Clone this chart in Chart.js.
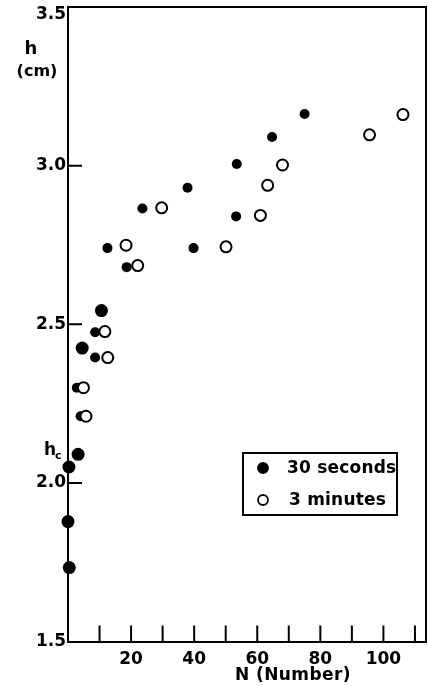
<!DOCTYPE html>
<html>
<head>
<meta charset="utf-8">
<script src="https://cdn.jsdelivr.net/npm/chart.js@4.4.1/dist/chart.umd.min.js"></script>
<style>
  html, body { margin: 0; padding: 0; background: #fff; }
  canvas { display: block; }
</style>
</head>
<body>
<canvas id="plot" width="428" height="686"></canvas>
<script>
// Height h (cm) against number N, two exposure times
const n30s = [8.6, 8.6, 2.8, 4.0, 12.5, 18.6, 23.6, 37.9, 39.8, 53.3, 53.5, 64.7, 75.0];
const h30s = [2.475, 2.395, 2.30, 2.21, 2.74, 2.68, 2.865, 2.93, 2.74, 2.84, 3.005, 3.09, 3.163];
// early 30 s readings, printed with the heavier dot
const n30sEarly = [10.6, 4.5, 3.2, 0.3, 0.0, 0.4];
const h30sEarly = [2.543, 2.425, 2.09, 2.05, 1.878, 1.733];
const n3min = [11.7, 12.6, 4.9, 5.7, 18.4, 22.1, 29.7, 50.1, 61.0, 63.3, 68.0, 95.6, 106.2];
const h3min = [2.477, 2.395, 2.30, 2.21, 2.749, 2.685, 2.867, 2.744, 2.843, 2.938, 3.002, 3.097, 3.161];

const xLabels = [20, 40, 60, 80, 100];
const yTicks = [1.5, 2.0, 2.5, 3.0, 3.5];
const seriesNames = ['30 seconds', '3 minutes'];

const FONT = '"DejaVu Sans", sans-serif';
const pts = (xs, ys) => xs.map((x, i) => ({ x, y: ys[i] }));

// inward tick marks, box edges, y labels, axis captions and the legend box
const frame = {
  id: 'frame',
  afterDraw(chart) {
    const { ctx, chartArea: a, scales: { x, y } } = chart;
    ctx.save();
    ctx.strokeStyle = '#000';
    ctx.lineWidth = 2;
    ctx.beginPath();
    ctx.moveTo(a.left, a.top); ctx.lineTo(a.right, a.top); ctx.lineTo(a.right, a.bottom);
    x.ticks.forEach(t => {
      if (t.value <= 0) return;
      const px = x.getPixelForValue(t.value);
      ctx.moveTo(px, a.bottom); ctx.lineTo(px, a.bottom - 16);
    });
    y.ticks.forEach(t => {
      if (t.value <= 1.5 || t.value >= 3.5) return;
      const py = y.getPixelForValue(t.value);
      ctx.moveTo(a.left, py); ctx.lineTo(a.left + 14, py);
    });
    ctx.stroke();

    ctx.fillStyle = '#000';
    ctx.textBaseline = 'middle';
    ctx.font = 'bold 17px ' + FONT;
    // y tick labels; the top one sits just below the frame corner
    ctx.textAlign = 'right';
    y.ticks.forEach(t => {
      const py = y.getPixelForValue(t.value) + (t.value >= 3.5 ? 8 : 0);
      ctx.fillText(t.value.toFixed(1), a.left - 2, py);
    });

    ctx.textAlign = 'center';
    ctx.font = 'bold 18px ' + FONT;
    ctx.fillText('h', 31, 49);
    ctx.font = 'bold 16px ' + FONT;
    ctx.fillText('(cm)', 37, 72);
    ctx.textAlign = 'left';
    ctx.font = 'bold 17px ' + FONT;
    ctx.fillText('h', 44, 451);
    ctx.font = 'bold 11px ' + FONT;
    ctx.fillText('c', 55, 456);
    ctx.textAlign = 'center';
    ctx.font = 'bold 17px ' + FONT;
    ctx.letterSpacing = '0.4px';
    ctx.fillText('N (Number)', 293, 676);

    // legend
    const bx = 243, by = 453, bw = 154, bh = 62;
    ctx.lineWidth = 2;
    ctx.strokeRect(bx, by, bw, bh);
    ctx.textAlign = 'left';
    ctx.font = 'bold 17px ' + FONT;
    ctx.letterSpacing = '0.2px';
    const rows = [{ y: 468, ds: chart.data.datasets[1] }, { y: 500, ds: chart.data.datasets[0] }];
    rows.forEach(r => {
      ctx.beginPath();
      ctx.arc(263, r.y, 5, 0, Math.PI * 2);
      ctx.fillStyle = r.ds.pointBackgroundColor;
      ctx.fill();
      ctx.lineWidth = 1.8;
      ctx.strokeStyle = '#000';
      ctx.stroke();
      ctx.fillStyle = '#000';
      ctx.fillText(r.ds.label, r.ds.label === seriesNames[0] ? 287 : 289, r.y + 1);
    });
    ctx.restore();
  }
};

new Chart(document.getElementById('plot'), {
  type: 'scatter',
  data: {
    datasets: [
      { label: seriesNames[1], data: pts(n3min, h3min), order: 0, clip: false,
        pointRadius: 5.5, pointBorderWidth: 2, pointBorderColor: '#000', pointBackgroundColor: '#fff' },
      { label: seriesNames[0], data: pts(n30s, h30s), order: 1, clip: false,
        pointRadius: 5, pointBorderWidth: 0, pointBackgroundColor: '#000' },
      { label: seriesNames[0], data: pts(n30sEarly, h30sEarly), order: 2, clip: false,
        pointRadius: 6.5, pointBorderWidth: 0, pointBackgroundColor: '#000' }
    ]
  },
  options: {
    responsive: false,
    animation: false,
    layout: { autoPadding: false, padding: { top: 7, right: 2, left: 0, bottom: 0 } },
    plugins: { legend: { display: false }, tooltip: { enabled: false } },
    scales: {
      x: {
        type: 'linear', min: 0, max: 113.5,
        afterFit: s => { s.height = 44.5; s.paddingLeft = 0; s.paddingRight = 0; },
        grid: { display: false, drawTicks: false },
        border: { display: true, color: '#000', width: 2 },
        ticks: {
          stepSize: 10, includeBounds: false, padding: 8, maxRotation: 0, autoSkip: false,
          color: '#000', font: { family: FONT, size: 17, weight: 'bold' },
          callback: v => xLabels.includes(v) ? String(v) : ''
        }
      },
      y: {
        type: 'linear', min: 1.5, max: 3.5,
        afterFit: s => { s.width = 68; s.paddingTop = 0; s.paddingBottom = 0; },
        afterBuildTicks: s => { s.ticks = yTicks.map(v => ({ value: v })); },
        grid: { display: false, drawTicks: false },
        border: { display: true, color: '#000', width: 2 },
        ticks: { display: false }
      }
    }
  },
  plugins: [frame]
});
</script>
</body>
</html>
